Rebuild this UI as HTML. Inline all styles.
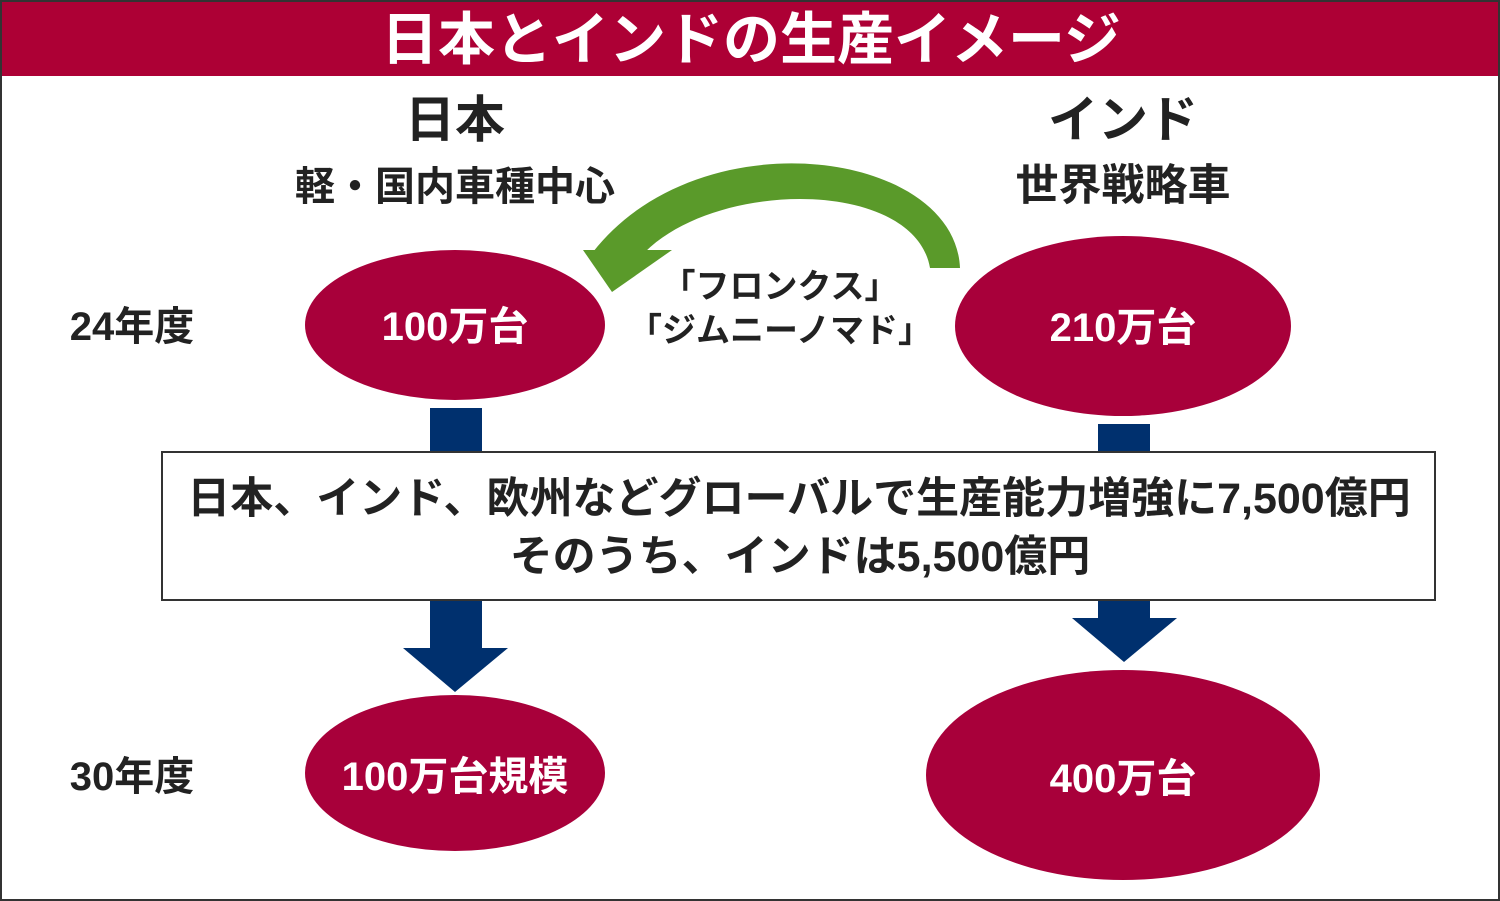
<!DOCTYPE html>
<html><head><meta charset="utf-8"><style>
html,body{margin:0;padding:0;background:#fff;}
svg{display:block;}
text{font-family:"Liberation Sans","Noto Sans CJK JP",sans-serif;font-weight:bold;}
</style></head><body>
<svg width="1500" height="901" viewBox="0 0 1500 901">
<rect x="1" y="1" width="1498" height="899" fill="#fff" stroke="#333" stroke-width="2"/>
<rect x="2" y="2" width="1496" height="74" fill="#ad0035"/>
<text x="751" y="59" font-size="57" fill="#fff" text-anchor="middle">日本とインドの生産イメージ</text>
<text x="455" y="137" font-size="50" fill="#222" text-anchor="middle">日本</text>
<text x="455" y="200" font-size="40" fill="#222" text-anchor="middle">軽・国内車種中心</text>
<text x="1123" y="137" font-size="50" fill="#222" text-anchor="middle">インド</text>
<text x="1123" y="200" font-size="43" fill="#222" text-anchor="middle">世界戦略車</text>
<text x="132" y="340" font-size="40" fill="#222" text-anchor="middle">24年度</text>
<text x="132" y="790" font-size="40" fill="#222" text-anchor="middle">30年度</text>
<path d="M960 268 C955 150,700 115,593 252 L645 252 C720 178,915 180,930 268 Z" fill="#5a9a2a"/>
<polygon points="583,250 672,250 612,292" fill="#5a9a2a"/>
<text x="780" y="298" font-size="34" fill="#222" text-anchor="middle" font-weight="normal">「フロンクス」</text>
<text x="780" y="342" font-size="34" fill="#222" text-anchor="middle" font-weight="normal">「ジムニーノマド」</text>
<rect x="430" y="408" width="52" height="242" fill="#00306e"/>
<polygon points="403,648 508,648 455,692" fill="#00306e"/>
<rect x="1098" y="424" width="52" height="196" fill="#00306e"/>
<polygon points="1072,618 1177,618 1124,662" fill="#00306e"/>
<ellipse cx="455" cy="325" rx="150" ry="75" fill="#a8003a"/>
<ellipse cx="1123" cy="326" rx="168" ry="90" fill="#a8003a"/>
<ellipse cx="455" cy="773" rx="150" ry="78" fill="#a8003a"/>
<ellipse cx="1123" cy="775" rx="197" ry="105" fill="#a8003a"/>
<text x="455" y="340" font-size="40" fill="#fff" text-anchor="middle">100万台</text>
<text x="1123" y="341" font-size="40" fill="#fff" text-anchor="middle">210万台</text>
<text x="455" y="790" font-size="40" fill="#fff" text-anchor="middle">100万台規模</text>
<text x="1123" y="792" font-size="40" fill="#fff" text-anchor="middle">400万台</text>
<rect x="162" y="452" width="1273" height="148" fill="#fff" stroke="#333" stroke-width="2"/>
<text x="799" y="513" font-size="43" fill="#222" text-anchor="middle">日本、インド、欧州などグローバルで生産能力増強に7,500億円</text>
<text x="800" y="571" font-size="43" fill="#222" text-anchor="middle">そのうち、インドは5,500億円</text>
</svg>
</body></html>
